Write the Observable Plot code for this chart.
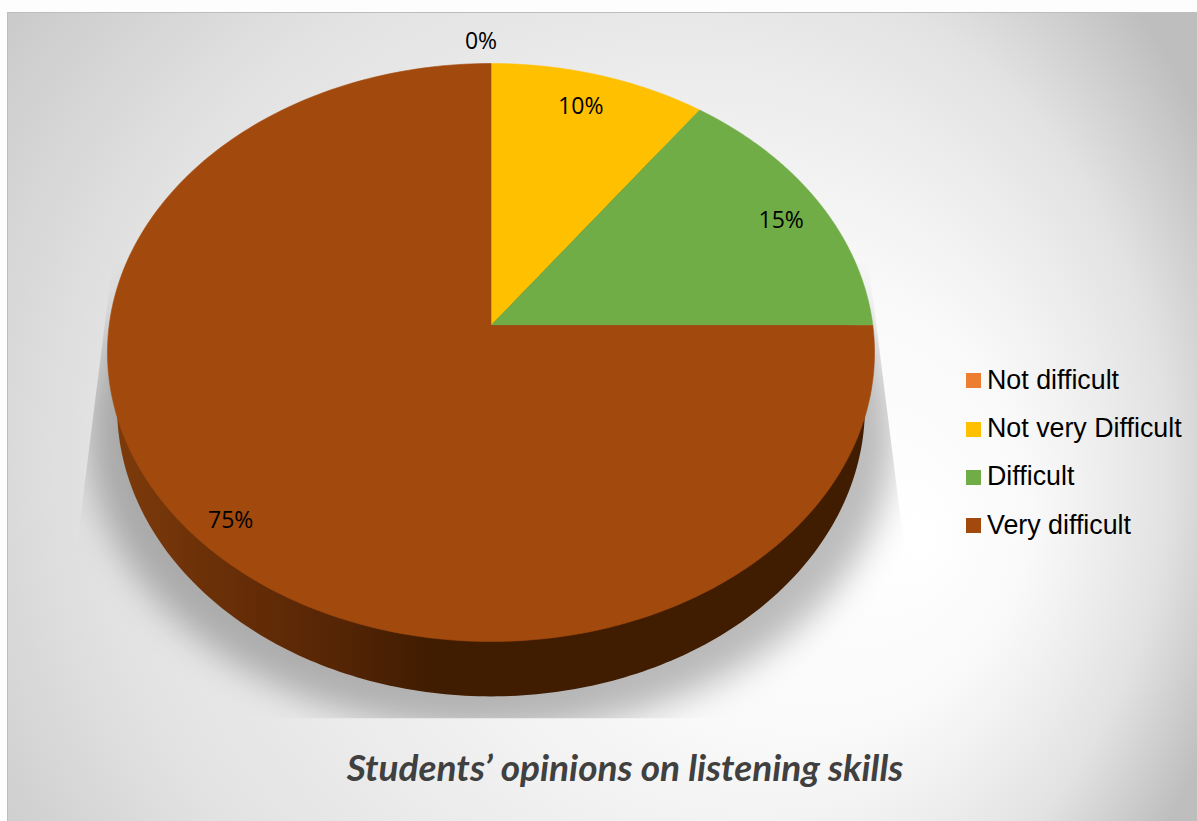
<!DOCTYPE html>
<html>
<head>
<meta charset="utf-8">
<script src="https://cdn.jsdelivr.net/npm/d3@7"></script>
<script src="https://cdn.jsdelivr.net/npm/@observablehq/plot@0.6"></script>
<style>
  html, body { margin: 0; padding: 0; background: #fdfdfd; overflow: hidden; }
  #stage { position: relative; width: 1197px; height: 821px; }
  #stage svg { position: absolute; left: 0; top: 0; }
  #title {
    position: absolute; left: 7px; width: 1236px; top: 744px; text-align: center;
    font: italic 700 37px Lato, sans-serif; color: #404040; white-space: nowrap;
  }
  #legend { position: absolute; left: 966px; top: 355px; font: 26.8px "Liberation Sans", Arial, sans-serif; color: #000; }
  #legend div { display: flex; align-items: center; height: 48.4px; white-space: nowrap; }
  #legend i { display: block; width: 15px; height: 15px; margin: 3px 6px 0 0; }
  #legend span { position: relative; top: 1px; }
</style>
</head>
<body>
<div id="stage">
  <div id="legend"></div>
  <div id="title">Students’ opinions on listening skills</div>
</div>
<script>
// Survey answers, in percent, clockwise from twelve o'clock
const categories = ["Not difficult", "Not very Difficult", "Difficult", "Very difficult"];
const shares = [0, 10, 15, 75];
const colors = ["#ED7D31", "#FFC000", "#70AD47", "#A2490E"];

// Where each percentage label sits along its slice's middle radius
const labelRadius = [1.09, 0.865, 0.885, 0.9];
const labelDx = [-10, -5, 0, -2];
const labelDy = [0, 0, 6, 1];

// The disc is tilted: its hub sits above the middle of the ellipse
const tilt = -0.0934;
const project = (angle, r = 1) => {
  const px = r * Math.sin(angle), py = -r * Math.cos(angle);
  const d = 1 + tilt * py;
  return {x: px * Math.sqrt(1 - tilt * tilt) / d, y: (py + tilt) / d};
};

const arcs = d3.pie().sort(null).value((d) => d)(shares);
const steps = 240;

// One closed outline per slice, traced along its rim and back to the hub
const wedges = arcs.flatMap((a, i) => {
  if (a.endAngle === a.startAngle) return [];
  const rim = d3.range(steps + 1).map((k) =>
    project(a.startAngle + (a.endAngle - a.startAngle) * (k / steps)));
  return [project(0, 0), ...rim, project(0, 0)].map((p) => ({...p, category: categories[i]}));
});

const ellipse = (cx, cy, rx, ry) =>
  d3.range(361).map((k) => {
    const t = (k * Math.PI) / 180;
    return {x: cx + rx * Math.cos(t), y: cy + ry * Math.sin(t)};
  });

const labels = arcs.map((a, i) => ({
  ...project((a.startAngle + a.endAngle) / 2, labelRadius[i]),
  text: `${shares[i]}%`, dx: labelDx[i], dy: labelDy[i]
}));

// Panel fill, shadow blur and side-wall shading
const defsMark = (index, {x, y}) => {
  const svg = d3.create("svg:g");
  const defs = svg.append("defs");
  const bg = defs.append("radialGradient").attr("id", "panel").attr("gradientUnits", "userSpaceOnUse")
    .attr("cx", 500).attr("cy", 440).attr("r", 770).attr("fx", 930).attr("fy", 540);
  [[0, "#ffffff"], [0.3, "#f9f9f9"], [0.5, "#eeeeee"], [0.7, "#e2e2e2"], [0.85, "#d0d0d0"], [1, "#bebebe"]].forEach(([o, c]) =>
    bg.append("stop").attr("offset", o).attr("stop-color", c));
  const wall = defs.append("linearGradient").attr("id", "wall").attr("gradientUnits", "userSpaceOnUse")
    .attr("x1", x(-1)).attr("x2", x(1)).attr("y1", 0).attr("y2", 0);
  [[0, "#7f3c0b"], [0.12, "#6d3108"], [0.3, "#552505"], [0.42, "#401c01"], [1, "#401c01"]].forEach(([o, c]) =>
    wall.append("stop").attr("offset", o).attr("stop-color", c));
  defs.append("filter").attr("id", "soft").attr("x", "-20%").attr("y", "-20%").attr("width", "140%").attr("height", "140%")
    .append("feGaussianBlur").attr("stdDeviation", 17);
  const trap = [[-0.986, -0.306], [0.986, -0.306], [1.135, 1.267], [-1.135, 1.267]];
  defs.append("clipPath").attr("id", "cast").append("polygon")
    .attr("points", trap.map(([u, v]) => `${x(u)},${y(v)}`).join(" "));
  svg.append("rect").attr("x", 7).attr("y", 12).attr("width", 1190).attr("height", 809).attr("fill", "url(#panel)");
  svg.append("path").attr("d", "M7.5,821V12.5H1197").attr("fill", "none").attr("stroke", "#bdbdbd");
  return svg.node();
};

const softShadow = (index, scales, values, dims, context, next) => {
  const g = next(index, scales, values, dims, context);
  g.setAttribute("filter", "url(#soft)");
  const holder = d3.create("svg:g").attr("clip-path", "url(#cast)").node();
  holder.appendChild(g);
  return holder;
};

const chart = Plot.plot({
  width: 1197,
  height: 821,
  margin: 0,
  style: {background: "transparent"},
  x: {domain: [-1, 1], range: [107, 874], axis: null},
  y: {domain: [-1, 1], range: [63, 641], axis: null},
  color: {domain: categories, range: colors},
  marks: [
    defsMark,
    Plot.line(ellipse(0, 0.28, 1.05, 1.03), {x: "x", y: "y", fill: "#000", fillOpacity: 0.26, stroke: null, render: softShadow}),
    Plot.line(ellipse(0, 0.19, 0.975, 1), {x: "x", y: "y", fill: "url(#wall)", stroke: null}),
    Plot.line(wedges, {x: "x", y: "y", z: "category", fill: "category", stroke: "category", strokeWidth: 0.6}),
    Plot.text(labels, {x: "x", y: "y", text: "text", fontSize: 23, fontFamily: "'Open Sans', sans-serif", fill: "#000"})
  ]
});

// Plot's text mark takes constant offsets only, so per-label nudges are applied afterwards
d3.select(chart).selectAll("text").each(function (d, i) {
  if (i < labels.length) {
    this.setAttribute("transform", `${this.getAttribute("transform") || ""} translate(${labels[i].dx},${labels[i].dy})`);
  }
});

const stage = document.getElementById("stage");
stage.insertBefore(chart, stage.firstChild);

d3.select("#legend").selectAll("div").data(categories).join("div")
  .html((d, i) => `<i style="background:${colors[i]}"></i><span>${d}</span>`);
</script>
</body>
</html>
